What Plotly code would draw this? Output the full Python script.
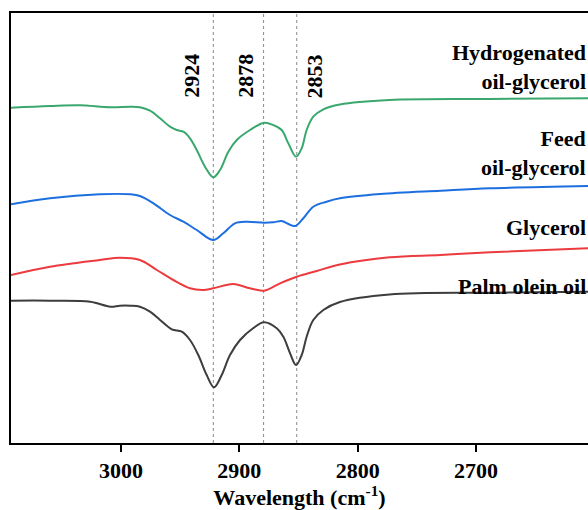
import plotly.graph_objects as go

# Wavenumbers (cm-1) and transmittance (a.u.)
hyd_x = [3093, 3060, 3035, 3009, 2992, 2984, 2975.5, 2967, 2958.6, 2953, 2947.3, 2941.7, 2936, 2929, 2922,
         2916.3, 2909.3, 2902.2, 2891, 2879.1, 2871.3, 2864.2, 2858.6, 2852.1, 2847.3, 2843.1, 2837.5,
         2829, 2815, 2773, 2688, 2605]
hyd_y = [335.3, 337, 337.7, 335.7, 336.3, 335.7, 332.3, 324.7, 316.3, 313, 311.3, 304.7, 293, 276.3, 265.7,
         273, 291.3, 303, 313, 320.3, 318, 313, 299.7, 286.3, 294.7, 313, 326.3,
         333.7, 338.5, 343, 344, 344.7]

feed_x = [3093, 3060, 3018, 2992, 2984, 2972.6, 2958.6, 2947.3, 2936, 2922, 2913.6, 2903.7, 2893.8, 2879.1,
          2871.3, 2864.2, 2858.6, 2852.9, 2845.9, 2837.5, 2826.3, 2815, 2781, 2730, 2688, 2605]
feed_y = [238.7, 244.7, 248.7, 248.7, 247, 239.7, 228, 221.3, 213, 203, 209.7, 219.7, 221.3, 220.3,
          220.7, 222, 219, 217, 224.7, 236.3, 241.3, 244.7, 249, 252.3, 254.7, 257]

gly_x = [3093, 3060, 3018, 3001, 2984, 2969.8, 2955.8, 2941.7, 2930.5, 2922, 2905.1, 2891, 2879.1,
         2865.6, 2851.5, 2834.6, 2815, 2773, 2730, 2688, 2605]
gly_y = [168, 176.3, 183, 185.3, 183, 173, 163, 154.7, 153, 154.7, 159, 154.7, 152.3,
         159.7, 166.3, 172, 178.5, 185.7, 188, 190.7, 194.7]

palm_x = [3093, 3060, 3026, 3009, 3001, 2992, 2984, 2975.5, 2967, 2957.1, 2948.6, 2941.7, 2934.7, 2927.6,
          2921.4, 2914.9, 2907.9, 2899.4, 2888.4, 2879.1, 2868.4, 2862.8, 2857.1, 2852.1, 2847.3,
          2843.1, 2837.5, 2829, 2815, 2773, 2688, 2605]
palm_y = [142.3, 142.3, 141.3, 136.3, 137.3, 137.3, 136.3, 131.3, 123, 113.7, 111.3, 103, 88, 68,
          55.7, 68, 88, 103, 114.7, 120.7, 114.7, 106.3, 89.7, 78, 88,
          106.3, 123, 133, 141, 148.5, 150.3, 151.3]

series_names = ["Hydrogenated oil-glycerol", "Feed oil-glycerol", "Glycerol", "Palm olein oil"]
series_colors = ["#3aa86e", "#1d6fe0", "#ec3b3f", "#3d3d3d"]

peak_pos = [2922, 2879.5, 2851.5]
peak_labels = ["2924", "2878", "2853"]

x_ticks = [3000, 2900, 2800, 2700]

FONT = "Liberation Serif, Times New Roman, serif"

fig = go.Figure()
for xs, ys, name, col in zip([hyd_x, feed_x, gly_x, palm_x], [hyd_y, feed_y, gly_y, palm_y],
                             series_names, series_colors):
    fig.add_trace(go.Scatter(x=xs, y=ys, mode="lines", name=name,
                             line=dict(color=col, width=2, shape="spline", smoothing=1.0)))

for p in peak_pos:
    fig.add_shape(type="line", x0=p, x1=p, xref="x", y0=0, y1=1, yref="paper",
                  line=dict(color="#8a8a8a", width=1, dash="3px,3px"), layer="below")

# peak labels (rotated)
label_x = [2941, 2895.5, 2836.5]
for lx, lab in zip(label_x, peak_labels):
    fig.add_annotation(x=lx, y=367, xref="x", yref="y", text=lab, textangle=-90, showarrow=False,
                       font=dict(family=FONT, size=22, color="black", weight="bold"))

# series labels
series_text = ["Hydrogenated<br>oil-glycerol", "Feed<br>oil-glycerol", "Glycerol", "Palm olein oil"]
text_y = [376, 290, 215.5, 156.3]
for t, ty in zip(series_text, text_y):
    fig.add_annotation(x=1.0, xref="paper", xanchor="right", y=ty, yref="y", yanchor="middle",
                       text=t, showarrow=False, align="right",
                       font=dict(family=FONT, size=22, color="black", weight="bold"))

fig.update_layout(
    width=588, height=510,
    margin=dict(l=11, r=0, t=13, b=67),
    paper_bgcolor="white", plot_bgcolor="white",
    showlegend=False,
    font=dict(family=FONT, size=22, color="black"),
)
fig.update_xaxes(range=[3093, 2605.3], tickvals=x_ticks, ticks="outside", ticklen=7, tickwidth=2,
                 tickcolor="black", showline=True, linecolor="black", linewidth=2, mirror=True,
                 showgrid=False, zeroline=False,
                 tickfont=dict(family=FONT, size=22, color="black", weight="bold"),
                 title=dict(text="Wavelength (cm<sup>-1</sup>)", standoff=6,
                            font=dict(family=FONT, size=22, color="black", weight="bold")))
fig.update_yaxes(range=[0, 430], showticklabels=False, ticks="", showline=True, linecolor="black",
                 linewidth=2, showgrid=False, zeroline=False)

fig.write_html("out.html")
